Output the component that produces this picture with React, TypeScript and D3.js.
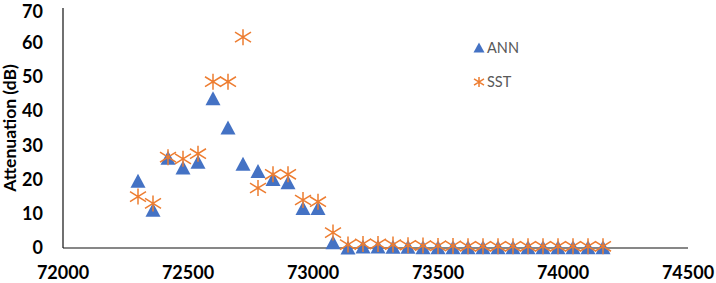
import React from "react";
import * as d3 from "d3";

const frequencies = [
  72300, 72360, 72420, 72480, 72540, 72600, 72660, 72720, 72780, 72840,
  72900, 72960, 73020, 73080, 73140, 73200, 73260, 73320, 73380, 73440,
  73500, 73560, 73620, 73680, 73740, 73800, 73860, 73920, 73980, 74040,
  74100, 74160,
];
const annValues = [
  19.5, 11, 26.2, 23.3, 25, 43.5, 35, 24.4, 22.3, 20,
  19, 11.5, 11.5, 1.5, 0, 0.3, 0.3, 0.2, 0.2, 0.1,
  0.1, 0.1, 0.1, 0.1, 0.1, 0.1, 0.1, 0.1, 0.1, 0.1,
  0.1, 0.1,
];
const sstValues = [
  15, 13, 26.5, 26, 27.5, 48.5, 48.5, 61.5, 17.5, 21.5,
  21.5, 14, 13.5, 4.5, 1, 1.2, 1.2, 1, 0.8, 0.7,
  0.6, 0.6, 0.5, 0.5, 0.5, 0.5, 0.5, 0.5, 0.5, 0.5,
  0.5, 0.5,
];
const xTicks = [72000, 72500, 73000, 73500, 74000, 74500];
const yTicks = [0, 10, 20, 30, 40, 50, 60, 70];
const seriesNames = ["ANN", "SST"];

const W = 716;
const H = 283;
const BLUE = "#4472C4";
const ORANGE = "#ED7D31";
const FONT = "Lato, 'Open Sans', sans-serif";

function triPath(cx: number, cy: number, hw: number, up: number, down: number) {
  return `M${cx},${cy - up}L${cx + hw},${cy + down}L${cx - hw},${cy + down}Z`;
}
function starPath(cx: number, cy: number, r: number, dx: number) {
  const d = r * 0.62;
  return `M${cx - dx},${cy - d}L${cx + dx},${cy + d}M${cx + dx},${cy - d}L${cx - dx},${cy + d}M${cx},${cy - r}L${cx},${cy + r}`;
}

export default function App() {
  const x = d3.scaleLinear().domain([72000, 74500]).range([63, 688]);
  const y = d3.scaleLinear().domain([0, 70]).range([248, 8]);

  return (
    <svg
      width={W}
      height={H}
      style={{ position: "absolute", left: 0, top: 0, background: "#fff" }}
      fontFamily={FONT}
    >
      <rect x={0} y={0} width={W} height={H} fill="#fff" />
      <line x1={x(72000)} x2={x(72000)} y1={y(70)} y2={y(0)} stroke="#111" strokeWidth={1.2} />
      <line x1={x(72000)} x2={x(74500)} y1={y(0)} y2={y(0)} stroke="#111" strokeWidth={1.2} />

      {yTicks.map((t) => (
        <text
          key={"y" + t}
          x={43}
          y={Math.max(y(t), 12)}
          dy="0.36em"
          textAnchor="end"
          fontSize={18}
          fontWeight="bold"
          fill="#000"
        >
          {t}
        </text>
      ))}
      {xTicks.map((t) => (
        <text
          key={"x" + t}
          x={x(t)}
          y={279}
          textAnchor="middle"
          fontSize={18}
          fontWeight="bold"
          fill="#000"
        >
          {t}
        </text>
      ))}
      <text
        transform={`translate(16,${128}) rotate(-90)`}
        textAnchor="middle"
        fontSize={17.5}
        fontWeight="bold"
        fill="#000"
      >
        Attenuation (dB)
      </text>

      <g>
        {frequencies.map((f, i) => (
          <path key={"a" + i} d={triPath(x(f), y(annValues[i]), 7.5, 7.5, 6.5)} fill={BLUE} />
        ))}
      </g>
      <g>
        {frequencies.map((f, i) => (
          <path
            key={"s" + i}
            d={starPath(x(f), y(sstValues[i]), 8, 8)}
            stroke={ORANGE}
            strokeWidth={1.5}
            fill="none"
          />
        ))}
      </g>

      <path d={triPath(479, 48, 5.5, 5.5, 4.5)} fill={BLUE} />
      <text x={487} y={53} fontSize={14.5} fill="#595959">
        {seriesNames[0]}
      </text>
      <path d={starPath(479, 82, 5, 5)} stroke={ORANGE} strokeWidth={1.5} fill="none" />
      <text x={487} y={87} fontSize={14.5} fill="#595959">
        {seriesNames[1]}
      </text>
    </svg>
  );
}
